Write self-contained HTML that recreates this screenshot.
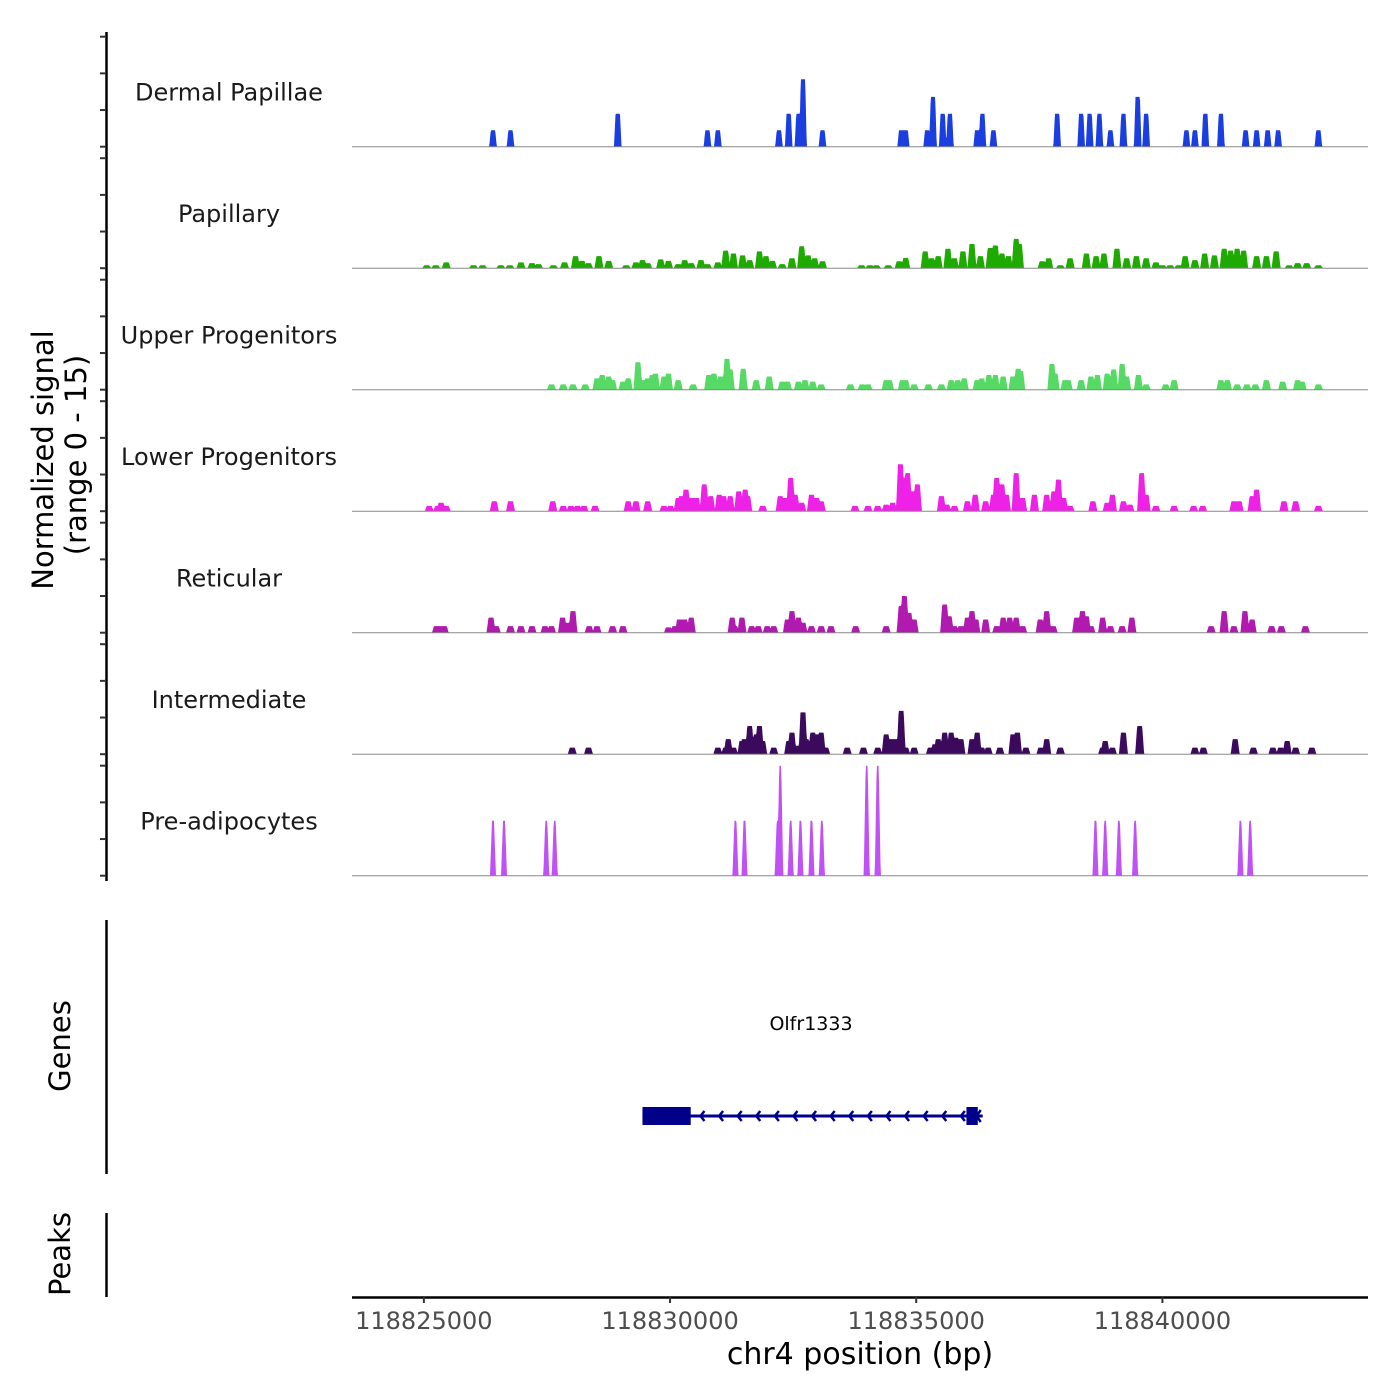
<!DOCTYPE html>
<html><head><meta charset="utf-8"><style>
html,body{margin:0;padding:0;background:#fff;}
svg{display:block;font-family:"DejaVu Sans","Liberation Sans",sans-serif;}
</style></head><body>
<svg id="chart" width="1400" height="1400" viewBox="0 0 1400 1400">
<rect width="1400" height="1400" fill="#fff"/>
<g id="tracks"></g>
<g id="yaxis"></g>
<text transform="translate(53,460) rotate(-90)" text-anchor="middle" font-size="29" fill="#000">Normalized signal</text>
<text transform="translate(86,455) rotate(-90)" text-anchor="middle" font-size="29" fill="#000">(range 0 - 15)</text>
<line x1="106.5" y1="920" x2="106.5" y2="1174" stroke="#000" stroke-width="2.5"/>
<text transform="translate(70,1046) rotate(-90)" text-anchor="middle" font-size="29">Genes</text>
<line x1="106.5" y1="1213" x2="106.5" y2="1297" stroke="#000" stroke-width="2.5"/>
<text transform="translate(70,1254) rotate(-90)" text-anchor="middle" font-size="29">Peaks</text>
<g id="gene"></g>
<g id="xaxis"></g>
<text x="860" y="1364" text-anchor="middle" font-size="30">chr4 position (bp)</text>
</svg>
<script>
const regionStart = 118823500;
const trackNames = ["Dermal Papillae","Papillary","Upper Progenitors","Lower Progenitors","Reticular","Intermediate","Pre-adipocytes"];
const trackColors = ["#1a3ee0","#1eaa00","#57d966","#ee22e6","#b01aae","#3c0a5c","#c052f5"];
const xTicks = [118825000,118830000,118835000,118840000];

const dermalPos = [2904,3260,5438,7260,7471,8712,8910,9108,9200,9596,11194,11286,11722,11840,12038,12184,12738,12844,13068,14362,14850,15022,15220,15444,15708,15998,16170,16988,17160,17371,17688,18190,18414,18638,18850,19668];
const dermalVal = [2.25,2.25,4.5,2.25,2.25,2.25,4.5,4.5,9.2,2.25,2.25,2.25,2.25,6.8,4.5,4.5,2.25,4.5,2.25,4.5,4.5,4.5,4.5,2.25,4.5,6.8,4.5,2.25,2.25,4.5,4.5,2.25,2.25,2.25,2.25,2.25];

const papillaryPos = [1558,1742,1954,2508,2693,3062,3247,3472,3696,3828,4132,4356,4580,4712,4844,5056,5254,5610,5808,5940,6046,6310,6468,6666,6798,6930,7128,7260,7471,7630,7788,7973,8118,8316,8448,8580,8778,8976,9174,9306,9438,9596,10388,10560,10692,10930,11154,11286,11682,11814,11946,12144,12276,12448,12632,12804,13002,13108,13240,13372,13530,13596,14058,14190,14428,14626,14956,15154,15312,15576,15774,15972,16170,16368,16500,16658,16830,16962,17160,17358,17556,17754,17886,18018,18150,18414,18612,18810,19074,19246,19430,19668];
const papillaryVal = [.4,.4,.8,.4,.4,.4,.4,.8,.7,.55,.4,.8,1.65,1,.7,1.65,1,.4,.8,1.1,.7,1.2,1,.55,1.1,.7,1.1,.55,.8,2.4,2,1.75,1.1,2.3,1.65,1,.55,1.35,3,1.75,1.35,.95,.4,.4,.4,.4,.95,1.4,2.3,1.35,1.65,2.65,1.35,2.3,3.3,1.65,2.75,3.1,2,1.65,4,3.3,.95,1.35,.4,1.35,2,1.65,2,2.65,1.35,1.65,1.35,.8,.4,.4,.4,1.65,1.1,2,1.75,2.65,2.4,2.65,2.4,1.65,1.65,2.3,.4,.7,.7,.4];

const upperPos = [4092,4330,4528,4778,5016,5122,5254,5333,5544,5650,5848,5940,6046,6138,6204,6376,6468,6666,6970,7286,7392,7524,7656,7722,7986,8250,8514,8778,8884,9108,9240,9398,9570,10164,10402,10520,10890,10956,11220,11286,11458,11748,12012,12210,12342,12474,12738,12830,12976,13108,13266,13464,13570,13622,14256,14322,14520,14586,14850,15048,15180,15378,15510,15682,15774,16012,16170,16566,16738,17688,17820,18018,18216,18388,18612,18942,19246,19338,19668];
const upperVal = [.73,.73,.73,.73,1.55,2,1.8,1.3,1.1,1.55,3.75,1.3,1.55,2,2.2,1.8,2.2,1.3,.73,2,2.2,1.8,4.2,2.75,2.85,1.3,1.8,1.1,1.1,1.1,1.3,1.1,.73,.73,.73,.73,1.3,1.3,1.3,1.3,.73,.73,.73,1.3,1.3,1.55,1.3,1.55,2,2,1.8,1.8,2.85,2.55,3.5,2.2,1.3,1.3,1.3,1.8,2,2.2,2.75,3.5,1.8,2,.73,.73,1.3,1.3,1.3,.73,.73,.73,1.3,1.1,1.3,1.1,.73];

const lowerPos = [1610,1782,1848,1954,2930,3260,4118,4330,4488,4620,4752,4976,5650,5808,6046,6376,6508,6666,6732,6824,6930,7036,7194,7326,7498,7590,7722,7894,8026,8078,8382,8738,8844,8950,9042,9174,9372,9478,9570,10256,10520,10718,10890,11022,11180,11246,11326,11431,11524,12012,12118,12276,12540,12698,12910,13068,13134,13240,13332,13530,13662,13900,14150,14296,14388,14494,14626,15088,15378,15484,15708,15840,16078,16170,16368,16738,17134,17318,17952,18058,18322,18414,18968,19206,19668];
const lowerVal = [.73,.73,1.15,.73,1.35,1.35,1.35,.73,.73,.73,.73,.73,1.35,1.35,1.35,.73,.73,1.8,2.05,2.95,1.8,1.8,3.65,2.05,2.25,2.05,2.05,2.7,2.95,2.05,.73,2.05,1.8,4.55,2.25,1.15,2.25,1.8,1.35,.73,.73,.73,.9,1.15,6.4,4.55,5.2,2.7,3.65,2.05,.9,.73,1.35,2.25,1.35,2.25,4.55,3.65,2.25,5.2,1.8,2.25,2.25,2.7,4.3,1.8,.73,1.35,1.15,2.25,1.35,.9,5.2,2.25,.73,.73,.73,.73,1.35,1.35,2.05,2.95,1.35,1.35,.73];

const reticularPos = [1756,1848,1914,2864,2970,3260,3472,3696,3960,4092,4316,4422,4528,4858,5016,5333,5544,6468,6600,6692,6798,6930,7762,7814,7960,8158,8290,8474,8606,8884,8976,9108,9200,9372,9570,9768,10270,10890,11194,11260,11352,11458,12078,12170,12276,12408,12540,12632,12712,12910,13134,13266,13398,13530,13662,14018,14150,14282,14758,14876,14956,15048,15286,15444,15682,15880,17490,17754,17952,18176,18322,18718,18916,19404];
const reticularVal = [.9,.9,.9,2.05,.9,.9,.9,.9,.9,.9,2.05,1.35,2.95,.9,.9,.9,.9,.73,.9,1.8,1.8,2.05,2.05,.9,2.05,.9,.9,.9,.9,1.8,2.95,2.05,1.35,.9,.9,.9,.9,.9,3.65,5,2.7,1.8,3.85,2.25,.9,.9,2.05,2.95,1.8,1.8,.9,2.05,2.05,2.05,.9,1.8,2.95,.9,2.05,2.95,2.25,.9,2.05,.9,.9,2.05,.9,2.95,.9,2.95,1.8,.9,.9,.9];

const intermediatePos = [4514,4844,7471,7630,7682,7788,7960,8012,8118,8250,8316,8382,8606,8910,8976,9108,9200,9266,9398,9478,9570,9662,10098,10428,10718,10890,10982,11088,11194,11286,11458,11788,11880,11946,12078,12210,12302,12408,12632,12738,12830,12962,13200,13464,13556,13728,14032,14150,14428,15286,15338,15484,15708,16038,17160,17332,17978,18348,18744,18902,19034,19206,19536];
const intermediateVal = [.9,.9,.9,.9,2.05,.9,1.8,2.05,3.85,2.7,3.85,1.8,.9,1.8,2.95,1.15,5.7,2.05,2.95,2.7,2.95,.9,.9,.9,.9,2.7,2.05,2.05,5.9,.9,.9,.9,1.35,2.05,2.95,2.95,2.25,2.05,2.05,2.95,.9,.9,.9,2.7,2.95,.9,.9,2.05,.9,.9,1.8,.9,2.95,3.85,.9,.9,2.05,.9,.9,.9,1.8,.9,.9];

const preadipoPos = [2904,3128,3986,4158,7828,8012,8686,8738,8950,9148,9372,9583,10494,10718,15140,15338,15616,15946,18084,18282];
const preadipoVal = [7.5,7.5,7.5,7.5,7.5,7.5,7.5,15,7.5,7.5,7.5,7.5,15,15,7.5,7.5,7.5,7.5,7.5,7.5];

const geneName = "Olfr1333";
const geneStart = 118829440, geneEnd = 118836350;
const exonStarts = [118829440, 118836020];
const exonEnds = [118830420, 118836250];

const NS = "http://www.w3.org/2000/svg";
const X0 = 352, X1 = 1368;
function xScale(bp){ return 350 + (bp - regionStart) / 20.31; }
const baseline0 = 146.7, trackStep = 121.5, trackH = 110, yMax = 15;
function yScale(v, i){ return baseline0 + i*trackStep - v / yMax * trackH; }
function mk(tag, attrs, parent){ const e=document.createElementNS(NS,tag); for(const k in attrs) e.setAttribute(k,attrs[k]); parent.appendChild(e); return e; }

const tracksPos = [dermalPos,papillaryPos,upperPos,lowerPos,reticularPos,intermediatePos,preadipoPos];
const tracksVal = [dermalVal,papillaryVal,upperVal,lowerVal,reticularVal,intermediateVal,preadipoVal];
const shapeTop = [2.2,2.5,2.5,2.5,2.5,2.5,1.0];
const shapeBase = [3.8,4.5,4.5,4.5,4.5,4.5,3.0];
const trackKeys = ["dermal-papillae","papillary","upper-progenitors","lower-progenitors","reticular","intermediate","pre-adipocytes"];

const gT = document.getElementById('tracks');
for(let i=0;i<7;i++){
  const g = mk('g',{},gT);
  
  
  const base = yScale(0,i);
  const lab = mk('text',{x:229,y:base-46,'text-anchor':'middle','font-size':24,fill:'#1a1a1a'},g);
  lab.textContent = trackNames[i];
  
  
  const P = tracksPos[i], V = tracksVal[i];
  const n = Math.min(P.length, V.length);
  let d = 'M'+X0+','+base;
  for(let px=X0; px<=X1; px+=0.5){
    let v = 0;
    for(let k=0;k<n;k++){
      const dx = Math.abs(px - xScale(regionStart + P[k]));
      let f = 0;
      if(dx<=shapeTop[i]) f=1; else if(dx<shapeBase[i]) f=(shapeBase[i]-dx)/(shapeBase[i]-shapeTop[i]);
      if(f*V[k]>v) v=f*V[k];
    }
    d += 'L'+px+','+yScale(v,i).toFixed(2);
  }
  d += 'L'+X1+','+base+'Z';
  const path = mk('path',{d:d,fill:trackColors[i],stroke:'none'},g);
  
  
  const bl = mk('line',{x1:X0,x2:X1,y1:base,y2:base,stroke:'#888',"stroke-width":1},g);
  
  
}

const gY = document.getElementById('yaxis');
const yl = mk('line',{x1:106.5,x2:106.5,y1:32,y2:881,stroke:'#000','stroke-width':2.5},gY);


for(let i=0;i<7;i++){
  for(const v of [0,5,10,15]){
    const t = mk('line',{x1:100,x2:106,y1:yScale(v,i),y2:yScale(v,i),stroke:'#333','stroke-width':2},gY);
    
    
  }
}

const gG = document.getElementById('gene');
const gy = 1116;
const gl = mk('line',{x1:xScale(geneStart),x2:xScale(geneEnd),y1:gy,y2:gy,stroke:'#00008b','stroke-width':3},gG);


for(let a=xScale(geneStart)+58; a<xScale(exonStarts[1]); a+=18.6){
  const ch = mk('path',{d:'M'+(a+4)+','+(gy-5)+'L'+a+','+gy+'L'+(a+4)+','+(gy+5),fill:'none',stroke:'#00008b','stroke-width':2.5},gG);
  
  
}
for(let k=0;k<exonStarts.length;k++){
  const ex = mk('rect',{x:xScale(exonStarts[k]),y:gy-9,width:xScale(exonEnds[k])-xScale(exonStarts[k]),height:18,fill:'#00008b'},gG);
  
  
}
const ea = mk('path',{d:'M'+(xScale(geneEnd)-2)+','+(gy-6)+'L'+(xScale(geneEnd)-6)+','+gy+'L'+(xScale(geneEnd)-2)+','+(gy+6),fill:'none',stroke:'#00008b','stroke-width':2.5},gG);


const gn = mk('text',{x:811,y:1030,'text-anchor':'middle','font-size':19,fill:'#000'},gG);
gn.textContent = geneName;



const gX = document.getElementById('xaxis');
const xl = mk('line',{x1:X0,x2:X1,y1:1297.5,y2:1297.5,stroke:'#000','stroke-width':2.5},gX);


for(const t of xTicks){
  const x = xScale(t);
  const tl = mk('line',{x1:x,x2:x,y1:1297,y2:1303,stroke:'#333','stroke-width':2},gX);
  
  
  const tx = mk('text',{x:x,y:1329,'text-anchor':'middle','font-size':24,fill:'#4d4d4d'},gX);
  tx.textContent = String(t);
  
  
}
</script>
</body></html>
